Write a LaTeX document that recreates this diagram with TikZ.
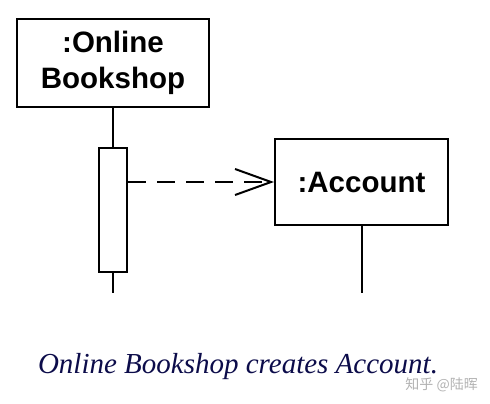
\documentclass[tikz,border=0pt]{standalone}
\usepackage{fontspec}
\setmainfont{Liberation Serif}
\setsansfont{Liberation Sans}
\newfontfamily\cjk{Noto Sans CJK SC}
\usetikzlibrary{arrows.meta}
\definecolor{navy}{HTML}{0C0C4A}
\begin{document}
\begin{tikzpicture}[x=1pt,y=-1pt,
  obj/.style={draw,line width=2pt,inner sep=0pt,align=center,font=\sffamily\bfseries\fontsize{29.5}{36}\selectfont},
  life/.style={line width=2pt},
  msg/.style={line width=2pt,dash pattern=on 18pt off 11pt,-{Straight Barb[length=36pt,width=26pt,line width=2pt]}}]
\useasboundingbox (0,0) rectangle (490,404);
\node[obj,minimum width=192pt,minimum height=87pt] (ob) at (113,63) {:Online\\Bookshop};
\node[draw,line width=2pt,minimum width=28pt,minimum height=124pt,inner sep=0pt] (act) at (113,210) {};
\node[obj,minimum width=173pt,minimum height=86pt] (acc) at (361.5,182) {:Account};
\coordinate (e1) at (113,293);
\coordinate (e2) at (361.5,293);
\draw[life] (ob.south) -- (act.north);
\draw[life] (act.south) -- (e1);
\draw[life] (acc.south) -- (e2);
\draw[msg] (act.east |- acc.west) -- (acc.west);
\node[anchor=base,text=navy,font=\itshape\fontsize{29}{34}\selectfont,inner sep=0pt] (cap) at (238,373) {Online Bookshop creates Account.};
\node[anchor=base east,text=black!30,font=\cjk\fontsize{14}{16}\selectfont,inner sep=0pt] (wm) at (478,389) {知乎 @陆晖};
\end{tikzpicture}
\end{document}
